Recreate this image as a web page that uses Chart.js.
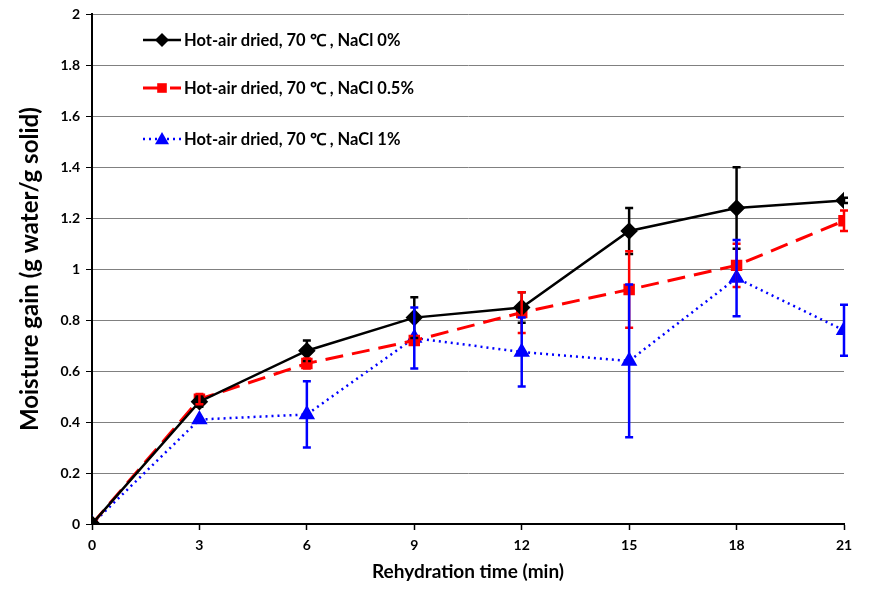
<!DOCTYPE html>
<html><head><meta charset="utf-8">
<script src="https://cdn.jsdelivr.net/npm/chart.js@4"></script>
<style>html,body{margin:0;padding:0;background:#fff}#wrap{width:872px;height:593px}</style>
</head><body><div id="wrap"><canvas id="c" width="872" height="593"></canvas></div>
<script>
const times = [0, 3, 6, 9, 12, 15, 18, 21];
const nacl0 = [0, 0.48, 0.68, 0.81, 0.85, 1.15, 1.24, 1.27];
const nacl0Err = [0, 0.02, 0.04, 0.08, 0.06, 0.09, 0.16, 0.01];
const nacl05 = [0, 0.49, 0.63, 0.72, 0.83, 0.92, 1.015, 1.19];
const nacl05Err = [0, 0.02, 0.02, 0.0, 0.08, 0.15, 0.085, 0.04];
const nacl1 = [0, 0.41, 0.43, 0.73, 0.675, 0.64, 0.965, 0.76];
const nacl1Err = [0, 0.0, 0.13, 0.12, 0.135, 0.30, 0.15, 0.10];
const labels = ['Hot-air dried, 70 ℃ , NaCl 0%', 'Hot-air dried, 70 ℃ , NaCl 0.5%', 'Hot-air dried, 70 ℃ , NaCl 1%'];

const FONT = 'Lato, "Open Sans", sans-serif';
const pts = (ys) => times.map((t, i) => ({x: t, y: ys[i]}));

const errPlugin = {
  id: 'errbars',
  afterDatasetsDraw(chart) {
    const ctx = chart.ctx, xs = chart.scales.x, ys = chart.scales.y;
    chart.data.datasets.forEach((ds) => {
      ctx.save();
      ctx.strokeStyle = ds.borderColor; ctx.lineWidth = 2.5; ctx.setLineDash([]);
      ds.data.forEach((p, i) => {
        const e = ds.err[i];
        if (!e) return;
        const px = xs.getPixelForValue(p.x);
        const top = ys.getPixelForValue(p.y + e), bot = ys.getPixelForValue(p.y - e);
        ctx.beginPath();
        ctx.moveTo(px, top); ctx.lineTo(px, bot);
        ctx.moveTo(px - 4, top); ctx.lineTo(px + 4, top);
        ctx.moveTo(px - 4, bot); ctx.lineTo(px + 4, bot);
        ctx.stroke();
      });
      ctx.restore();
    });
  }
};

const legendPlugin = {
  id: 'customLegend',
  afterDraw(chart) {
    const ctx = chart.ctx;
    const rows = [40, 88, 139];
    chart.data.datasets.forEach((ds, i) => {
      const y = rows[i];
      ctx.save();
      ctx.strokeStyle = ds.borderColor; ctx.lineWidth = ds.borderWidth;
      ctx.setLineDash(ds.borderDash || []);
      ctx.beginPath(); ctx.moveTo(143, y); ctx.lineTo(181, y); ctx.stroke();
      ctx.setLineDash([]);
      ctx.fillStyle = ds.pointBackgroundColor;
      ctx.translate(162, y);
      const r = ds.pointRadius;
      ctx.beginPath();
      if (ds.pointStyle === 'rectRot') { ctx.moveTo(0, -r); ctx.lineTo(r, 0); ctx.lineTo(0, r); ctx.lineTo(-r, 0); }
      else if (ds.pointStyle === 'rect') { ctx.rect(-r * 0.8, -r * 0.8, r * 1.6, r * 1.6); }
      else { ctx.moveTo(0, -r); ctx.lineTo(r, r * 0.75); ctx.lineTo(-r, r * 0.75); }
      ctx.closePath(); ctx.fill();
      ctx.restore();
      ctx.save();
      ctx.fillStyle = '#000'; ctx.font = 'bold 16.5px ' + FONT; ctx.textBaseline = 'middle';
      ctx.fillText(ds.label, 184, y + 1);
      ctx.restore();
    });
  }
};

new Chart(document.getElementById('c'), {
  type: 'line',
  data: {
    datasets: [
      {label: labels[0], data: pts(nacl0), err: nacl0Err, borderColor: '#000', backgroundColor: '#000', pointBackgroundColor: '#000', pointBorderColor: '#000', borderWidth: 2.5, pointStyle: 'rectRot', pointRadius: 7, tension: 0},
      {label: labels[1], data: pts(nacl05), err: nacl05Err, borderColor: '#ff0000', backgroundColor: '#ff0000', pointBackgroundColor: '#ff0000', pointBorderColor: '#ff0000', borderWidth: 3, borderDash: [18, 9], pointStyle: 'rect', pointRadius: 6, tension: 0},
      {label: labels[2], data: pts(nacl1), err: nacl1Err, borderColor: '#0000ff', backgroundColor: '#0000ff', pointBackgroundColor: '#0000ff', pointBorderColor: '#0000ff', borderWidth: 2.5, borderDash: [2, 4], pointStyle: 'triangle', pointRadius: 7, tension: 0}
    ]
  },
  options: {
    responsive: false, animation: false,
    layout: {padding: {top: 4, right: 28, bottom: 0, left: 0}},
    plugins: {legend: {display: false}, tooltip: {enabled: false}},
    scales: {
      x: {
        type: 'linear', min: 0, max: 21,
        afterFit: (s) => { s.height = 69; },
        ticks: {stepSize: 3, color: '#000', font: {family: FONT, weight: 'bold', size: 14}, padding: 7},
        grid: {drawOnChartArea: false, color: '#000', tickLength: 6, tickWidth: 1.5},
        border: {color: '#000', width: 2},
        title: {display: true, text: 'Rehydration time (min)', color: '#000', font: {family: FONT, weight: 'bold', size: 19}, padding: {top: 4, bottom: 10}}
      },
      y: {
        min: 0, max: 2,
        afterFit: (s) => { s.width = 92; },
        ticks: {stepSize: 0.2, color: '#000', font: {family: FONT, weight: 'bold', size: 14}, padding: 6, callback: (v) => Number(v.toFixed(1)).toString()},
        grid: {color: '#808080', borderDash: [4, 3], tickColor: '#000', tickBorderDash: [], tickLength: 6, lineWidth: 1},
        border: {color: '#000', width: 2, dash: []},
        title: {display: true, text: 'Moisture gain (g water/g solid)', color: '#000', font: {family: FONT, weight: 'bold', size: 24}, padding: {top: 16, bottom: 0}}
      }
    }
  },
  plugins: [errPlugin, legendPlugin]
});
</script></body></html>
